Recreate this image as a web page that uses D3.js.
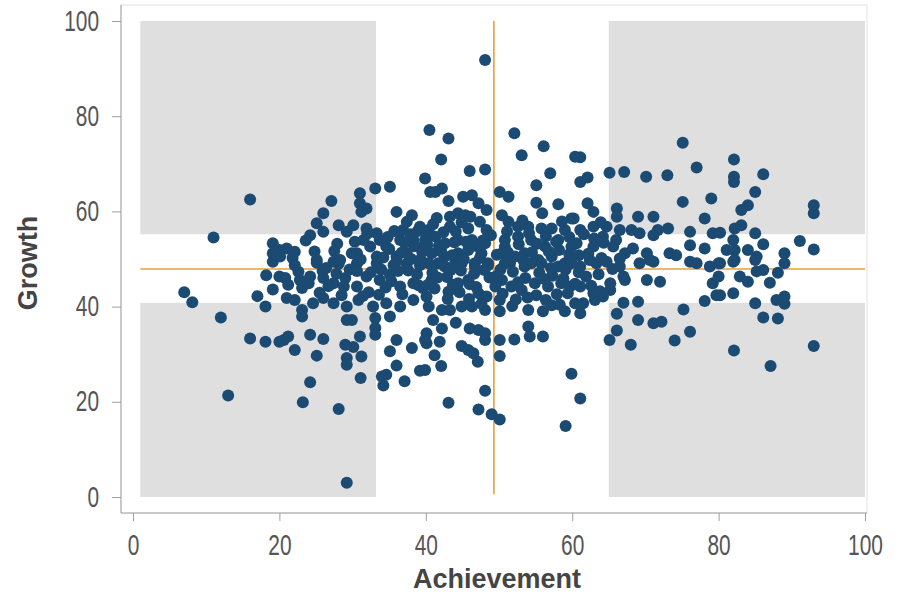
<!DOCTYPE html>
<html>
<head>
<meta charset="utf-8">
<script src="https://cdn.jsdelivr.net/npm/d3@7"></script>
<style>
  body { margin: 0; background: #fff; }
  #chart { width: 900px; height: 596px; }
  text { font-family: "Liberation Sans", Arial, sans-serif; }
</style>
</head>
<body>
<div id="chart"></div>
<script>
// Achievement / growth pairs
const scores = [
  [16.0,62.5],[11.0,54.5],[19.1,53.3],[19.1,51.2],[20.0,51.9],[19.1,49.4],[18.2,46.6],[20.0,46.3],
  [19.1,43.6],[17.0,42.2],[18.1,40.0],[7.0,43.0],[8.1,40.9],[12.0,37.7],[16.0,33.3],[18.1,32.6],
  [20.0,32.6],[13.0,21.3],
  [22.1,48.7],[25.1,49.2],[28.1,49.0],[30.6,49.1],[33.3,49.1],[35.6,48.7],[37.4,49.0],[39.2,48.7],
  [20.8,46.0],[21.2,44.6],[23.1,43.9],[24.2,46.3],[26.0,46.0],[27.4,44.9],[29.0,46.0],[30.6,44.2],
  [31.9,46.3],[33.7,45.6],[35.1,46.7],[36.5,44.2],[38.3,44.9],[39.6,43.9],[21.0,41.8],[22.1,41.4],
  [23.1,39.3],[23.1,37.9],[24.6,40.7],[26.0,41.8],[27.4,40.7],[29.2,40.0],[30.8,41.4],[32.8,40.0],
  [34.6,40.7],[36.5,40.0],[38.3,41.4],[40.1,42.1],[29.2,37.2],[29.9,37.2],[33.1,37.6],[33.1,35.5],
  [35.1,37.9],[33.1,34.1],[20.6,33.0],[21.2,33.7],[22.1,30.9],[24.2,34.1],[25.1,29.7],[26.0,33.2],
  [29.0,32.0],[30.1,31.5],[29.2,29.2],[29.2,27.8],[31.0,33.7],[31.2,29.5],[35.1,30.6],[36.0,33.0],
  [38.1,31.3],[36.0,27.6],[34.6,25.7],[34.0,25.3],[34.2,23.4],[37.1,24.3],[39.2,26.5],[40.1,34.4],
  [40.1,32.3],[24.2,24.1],[23.2,19.9],[28.1,18.5],[31.1,25.0],[29.2,3.0],
  [40.5,77.1],[39.9,66.9],[40.6,64.1],[33.1,64.8],[35.1,65.2],[31.0,63.8],[31.0,61.7],[31.9,60.6],
  [31.2,59.9],[27.1,62.2],[26.0,59.6],[25.1,57.5],[24.2,55.0],[26.0,55.7],[28.1,57.1],[29.2,55.7],
  [30.1,57.1],[31.9,56.4],[33.3,55.4],[36.0,59.9],[38.1,59.2],[37.4,57.8],[36.9,56.1],[39.2,56.8],
  [21.0,52.2],[22.1,51.5],[25.1,49.8],[27.4,49.4],[28.3,49.8],[30.6,51.2],[32.4,52.6],[33.7,54.0],
  [34.6,52.6],[31.5,54.0],[29.9,51.2],[36.5,54.0],[38.3,54.0],[39.6,52.6],[37.4,51.2],[36.0,50.5],
  [33.3,50.5],[20.1,50.5],[40.1,55.4],
  [48.1,91.8],[43.1,75.3],[42.1,70.9],[46.0,68.5],[48.1,68.8],[41.3,64.1],[42.2,64.8],
  [43.1,62.2],[45.1,63.1],[46.3,63.4],[47.2,61.7],[48.3,60.3],[44.4,59.6],[43.3,58.9],[45.4,59.2],
  [43.3,56.8],[45.8,56.4],[47.4,57.8],[48.3,56.1],[40.4,56.1],[41.3,54.7],[39.9,54.0],[42.6,53.3],
  [44.4,54.0],[46.3,54.0],[48.1,53.3],[40.8,51.2],[42.6,50.5],[44.4,51.2],[45.8,51.9],[47.6,51.2],
  [41.7,49.1],[44.0,49.1],[46.7,49.1],[48.5,49.1],
  [52.1,76.4],[56.1,73.7],[53.1,71.8],[57.0,68.0],[55.1,65.5],[55.1,61.8],[58.1,61.5],[60.4,71.5],
  [50.1,64.1],[51.3,63.1],[50.4,59.2],[51.3,57.8],[52.6,56.8],[54.0,56.8],[55.8,56.4],[57.2,56.4],
  [59.0,56.1],[59.9,58.5],[50.8,54.0],[52.6,54.7],[54.4,54.0],[56.3,52.6],[58.1,54.0],[59.9,52.6],
  [50.4,51.2],[52.2,50.5],[53.5,51.2],[55.4,49.8],[57.2,50.5],[59.0,49.1],[51.5,49.1],[54.4,49.1],
  [40.4,49.1],[42.6,48.4],[44.9,49.1],[46.7,48.4],[48.5,48.7],[50.8,49.1],[53.5,48.4],[55.8,49.1],
  [58.1,48.4],[59.9,49.1],[40.8,45.6],[43.1,43.1],[44.4,44.9],[45.8,45.6],[47.2,42.8],[48.3,42.1],
  [50.4,45.6],[51.7,44.2],[53.1,43.5],[55.1,42.4],[56.7,44.2],[58.5,44.9],[59.4,42.8],[40.4,40.0],
  [42.2,39.3],[43.3,39.3],[44.9,40.0],[46.3,40.0],[48.1,39.3],[50.1,41.4],[50.1,39.0],[54.0,39.3],
  [56.0,39.0],[57.2,40.3],[59.0,39.0],[41.0,37.2],[42.2,35.4],[44.1,36.6],[46.0,35.4],[47.2,35.1],
  [48.1,34.4],[48.1,33.0],[50.1,33.0],[52.1,33.1],[54.0,35.8],[54.2,33.7],[56.0,33.7],[39.9,33.0],
  [41.9,32.6],[44.9,31.7],[45.8,30.9],[46.5,30.2],[47.1,28.4],[41.2,29.8],[42.1,27.5],[50.1,29.6],
  [48.1,22.3],[43.1,19.8],[47.2,18.4],[49.0,17.4],[50.1,16.3],[59.9,25.9],[59.1,14.9],[39.9,26.7],
  [75.1,74.4],[61.1,71.4],[77.0,69.2],[61.1,66.2],[62.1,67.1],[65.1,68.1],[67.1,68.3],[70.1,67.3],
  [73.0,67.6],[75.1,62.0],[79.0,62.7],[62.1,61.7],[62.9,59.9],[66.1,60.6],[66.1,58.9],[69.0,58.9],
  [71.1,58.9],[78.1,58.5],[60.2,58.5],[61.1,56.1],[62.9,56.8],[64.7,56.8],[66.5,56.1],[68.1,56.1],
  [69.2,55.4],[71.1,55.0],[73.1,56.4],[71.7,56.1],[76.1,55.7],[79.2,55.4],[76.1,52.9],[78.1,52.2],
  [60.6,53.3],[62.9,52.6],[64.2,54.7],[65.6,52.6],[67.2,51.2],[68.3,52.2],[70.2,51.2],[71.1,49.4],
  [73.3,51.2],[74.2,50.8],[76.1,49.4],[62.4,49.8],[64.7,49.4],[66.5,50.1],[59.7,50.5],
  [61.1,44.2],[62.9,42.8],[63.8,43.2],[65.2,44.9],[65.2,43.5],[63.1,41.4],[64.2,42.1],[59.7,44.2],
  [60.4,40.7],[61.1,38.6],[61.5,40.7],[67.2,45.6],[70.2,45.6],[72.0,45.2],[67.0,40.8],[69.0,41.0],
  [66.1,38.5],[69.0,37.2],[71.1,36.5],[72.2,36.8],[75.2,39.4],[78.1,41.2],[79.2,44.9],[79.7,42.4],
  [66.1,35.0],[65.1,33.0],[68.0,32.0],[76.1,34.7],[74.0,32.9],[61.1,20.7],
  [61.1,48.4],[63.3,49.1],[66.5,48.4],[69.2,49.1],[70.6,49.8],[77.0,49.1],[78.8,48.4],[67.0,46.3],
  [82.1,70.9],[82.1,67.3],[82.1,66.2],[86.1,67.8],[85.0,64.1],[84.0,61.3],[83.1,60.3],[93.0,61.3],
  [93.0,59.6],[80.2,55.5],[82.2,56.4],[83.1,57.1],[85.0,55.4],[82.0,54.0],[81.1,51.9],[82.2,51.9],
  [84.0,51.9],[86.1,53.1],[85.2,50.5],[89.0,51.2],[91.1,53.8],[93.0,52.0],[89.0,49.1],[82.2,49.8],
  [80.2,49.1],
  [80.0,49.1],[82.0,49.4],[85.0,49.8],[80.0,46.3],[82.9,46.3],[84.0,45.2],[85.2,47.4],[86.1,47.7],
  [88.1,47.1],[87.0,45.0],[80.2,42.4],[82.0,42.8],[85.0,40.7],[87.9,41.4],[89.0,42.1],[89.0,40.6],
  [86.1,37.7],[88.1,37.5],[82.1,30.8],[87.1,27.5],[93.0,31.7],
  [34.2,50.3],[35.0,52.1],[36.2,47.5],[37.1,53.4],[38.0,50.0],[38.8,46.8],[39.5,51.5],[34.5,44.0],
  [36.8,42.6],[37.9,55.2],[35.7,55.9],[33.9,47.8],[39.0,44.5],[36.0,49.6],[38.4,52.7],
  [40.9,47.1],[41.8,52.8],[42.9,46.2],[43.6,50.8],[44.8,47.6],[45.5,53.6],[46.6,46.9],[47.4,50.2],
  [41.2,43.8],[43.0,41.6],[44.6,43.0],[46.9,44.1],[47.8,53.9],[42.4,55.6],[44.9,57.7],[41.5,58.6],
  [46.1,58.9],[48.7,46.1],[40.2,53.0],[43.9,53.5],
  [49.6,46.4],[50.8,52.6],[51.9,47.3],[52.7,53.1],[53.6,46.0],[54.5,51.4],[55.5,47.1],[56.4,54.8],
  [57.3,46.5],[58.2,51.9],[59.1,47.8],[50.5,42.7],[52.3,41.5],[54.9,44.9],[57.9,42.6],[53.2,58.1],
  [55.9,59.6],[58.6,57.9],[51.1,55.8],[56.8,51.6],[59.6,54.6],[49.7,50.9],
  [60.9,47.2],[62.2,51.1],[63.6,46.8],[64.3,53.4],[65.5,47.9],[61.6,55.2],[63.9,57.7],[60.4,44.8],
  [62.6,44.4],[66.0,54.0],
  [22.6,47.3],[24.8,51.6],[26.4,48.1],[27.9,53.2],[29.6,47.8],[31.1,49.9],[32.5,47.2],[23.6,53.9],
  [26.7,44.3],[28.5,42.4],[30.3,53.6],[32.2,43.0],[25.5,42.9],[21.8,50.2],
  [35.3,45.3],[37.6,47.6],[39.3,49.9],[34.8,54.6],[36.7,51.3],[38.9,55.9],[40.3,44.6],[41.6,46.1],
  [42.1,51.6],[43.4,47.7],[44.1,55.8],[45.2,49.9],[46.0,44.7],[47.0,52.7],[48.0,47.7],[48.9,55.0],
  [41.0,57.3],[43.7,44.6],[45.9,41.6],[47.6,40.6],[49.5,44.2],[50.2,47.8],[51.2,51.4],[52.6,45.1],
  [53.3,49.8],[54.1,55.4],[55.2,53.2],[56.2,45.8],[57.1,48.1],[57.8,53.6],[58.8,45.9],[59.6,51.0],
  [51.8,40.1],[53.9,41.9],[56.4,41.4],[58.3,40.4],[60.9,50.8],[61.9,46.3],[63.0,54.3],[64.0,50.2],
  [24.0,44.9],[25.9,47.5],[27.5,51.7],[28.8,44.2],[30.6,47.5],[32.0,55.3],[33.6,42.5],[22.8,45.6],
  [27.8,46.9],[31.4,42.2]
];

const xTicks = [0, 20, 40, 60, 80, 100];
const yTicks = [0, 20, 40, 60, 80, 100];
// shaded quadrant regions: achievement columns x growth rows (middle band left white)
const shadeCols = [[1, 33.2], [65, 100]];
const shadeRows = [[0, 40.8], [55.2, 100]];
const meanAchievement = 49.3;
const meanGrowth = 47.9;

const width = 900, height = 596;
const margin = { top: 21, right: 35, bottom: 99, left: 133 };

const svg = d3.select("#chart").append("svg")
  .attr("width", width)
  .attr("height", height);

const x = d3.scaleLinear().domain([0, 100]).range([margin.left, width - margin.right]);
const y = d3.scaleLinear().domain([0, 100]).range([height - margin.bottom, margin.top]);

// plot frame
const frame = { x0: 121, x1: 867, y0: 5, y1: 513 };
svg.append("rect")
  .attr("x", frame.x0).attr("y", frame.y0)
  .attr("width", frame.x1 - frame.x0).attr("height", frame.y1 - frame.y0)
  .attr("fill", "#fff").attr("stroke", "#e2e2e2");

// grey quadrants
shadeCols.forEach(c => {
  shadeRows.forEach(r => {
    svg.append("rect")
      .attr("x", x(c[0])).attr("y", y(r[1]))
      .attr("width", x(c[1]) - x(c[0]))
      .attr("height", y(r[0]) - y(r[1]))
      .attr("fill", "#dfdfdf");
  });
});

// mean lines
svg.append("line")
  .attr("x1", x(1)).attr("x2", x(100))
  .attr("y1", y(meanGrowth)).attr("y2", y(meanGrowth))
  .attr("stroke", "#e8a138").attr("stroke-width", 1.6);
svg.append("line")
  .attr("x1", x(meanAchievement)).attr("x2", x(meanAchievement))
  .attr("y1", y(0.6)).attr("y2", y(100))
  .attr("stroke", "#e8a138").attr("stroke-width", 1.6);

// points
svg.append("g").selectAll("circle")
  .data(scores)
  .enter()
  .append("circle")
  .attr("cx", d => x(d[0]))
  .attr("cy", d => y(d[1]))
  .attr("r", 6)
  .attr("fill", "#1b4a73");

// axes
const xAxis = svg.append("g")
  .attr("transform", `translate(0,${frame.y1})`)
  .call(d3.axisBottom(x).tickValues(xTicks).tickSize(8).tickSizeOuter(0));
xAxis.select(".domain").attr("d", `M${frame.x0},0H${frame.x1}`);

const yAxis = svg.append("g")
  .attr("transform", `translate(${frame.x0},0)`)
  .call(d3.axisLeft(y).tickValues(yTicks).tickSize(9).tickSizeOuter(0));
yAxis.select(".domain").attr("d", `M0,${frame.y0}V${frame.y1}`);

[xAxis, yAxis].forEach(a => {
  a.select(".domain").attr("stroke", "#a0a0a0");
  a.selectAll(".tick line").attr("stroke", "#a0a0a0");
  a.selectAll(".tick text")
    .attr("fill", "#555")
    .style("font-size", "22px")
    .style("font-family", "'Liberation Sans', Arial, sans-serif");
});
// labels in the picture are drawn tall and narrow
xAxis.selectAll(".tick text")
  .attr("y", 32).attr("dy", 0)
  .attr("transform", "scale(0.95,1.3)");
yAxis.selectAll(".tick text")
  .attr("x", -22 / 0.95)
  .attr("transform", "scale(0.95,1.3)");

svg.append("text")
  .attr("x", 497).attr("y", 588)
  .attr("text-anchor", "middle")
  .attr("fill", "#444")
  .style("font-size", "27px").style("font-weight", "bold")
  .text("Achievement");

svg.append("text")
  .attr("transform", "translate(37,263) rotate(-90)")
  .attr("text-anchor", "middle")
  .attr("fill", "#444")
  .style("font-size", "27px").style("font-weight", "bold")
  .text("Growth");
</script>
</body>
</html>
